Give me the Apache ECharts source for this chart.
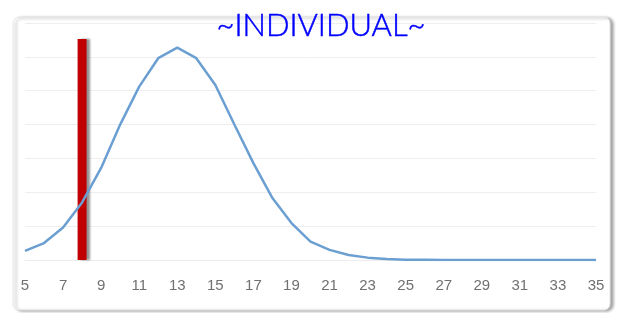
<!DOCTYPE html>
<html><head><meta charset="utf-8">
<script src="https://cdn.jsdelivr.net/npm/echarts@6/dist/echarts.min.js"></script>
<style>html,body{margin:0;padding:0;background:#fff}#c{width:618px;height:313px}</style>
</head><body><div id="c"></div>
<script>
var titleText = '~INDIVIDUAL~';
var categories = ['5','6','7','8','9','10','11','12','13','14','15','16','17','18','19','20','21','22','23','24','25','26','27','28','29','30','31','32','33','34','35'];
var curveValues = [0.27,0.50,0.96,1.70,2.72,4.0,5.12,5.96,6.27,5.96,5.17,4.0,2.86,1.83,1.09,0.54,0.30,0.15,0.07,0.03,0.01,0.01,0,0,0,0,0,0,0,0,0];
var markerCategory = '8';
var markerHeight = 6.53;

var markerData = categories.map(function(c){ return c === markerCategory ? markerHeight : null; });

var chart = echarts.init(document.getElementById('c'));
chart.setOption({
  animation: false,
  title: { text: titleText, left: 316, textAlign: 'center', top: 5, textStyle: { color: '#0000ff', fontFamily: 'Lato', fontWeight: 300, fontSize: 31, textBorderColor: '#0000ff', textBorderWidth: 0.5 } },
  graphic: [{ type: 'rect', z: -10, shape: { x: 13, y: 17, width: 597, height: 293, r: 6 },
    style: { fill: '#fff', stroke: '#e4e4e4', lineWidth: 1, shadowBlur: 3, shadowOffsetX: 3, shadowOffsetY: 1, shadowColor: 'rgba(0,0,0,0.35)' } }],
  grid: { left: 25, right: 22, top: 23, bottom: 53 },
  xAxis: { type: 'category', data: categories, boundaryGap: false,
    axisLine: { show: true, lineStyle: { color: '#ececec' } }, axisTick: { show: false },
    axisLabel: { interval: 1, color: '#707070', fontSize: 15, fontFamily: 'Liberation Sans', margin: 18 } },
  yAxis: { type: 'value', min: 0, max: 7, interval: 1, axisLabel: { show: false },
    axisLine: { show: false }, axisTick: { show: false }, splitLine: { lineStyle: { color: '#eeeeee' } } },
  series: [
    { type: 'line', data: curveValues, symbol: 'none', smooth: false, z: 3,
      lineStyle: { color: '#6b9fd2', width: 2.5 } },
    { type: 'bar', data: markerData, barWidth: 9, barGap: '-100%', z: 2,
      itemStyle: { color: '#c00000', shadowColor: 'rgba(60,60,60,0.55)', shadowOffsetX: 3, shadowBlur: 2 } }
  ]
});
</script></body></html>
